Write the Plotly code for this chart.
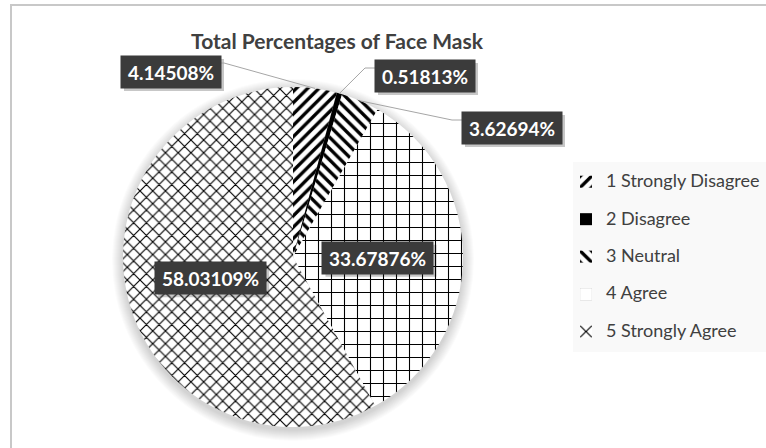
import math
import plotly.graph_objects as go

W, H = 766, 448

# Survey responses and their share of the total
categories = ["1 Strongly Disagree", "2 Disagree", "3 Neutral", "4 Agree", "5 Strongly Agree"]
percentages = [4.14508, 0.51813, 3.62694, 33.67876, 58.03109]

# Monochrome fills, one per response
slice_colors = ["white", "black", "white", "white", "white"]
pattern_shapes = ["/", "", "\\", "+", "x"]
pattern_sizes = [8, 8, 8, 13, 9]
pattern_solidity = [0.42, 0.4, 0.42, 0.16, 0.24]

# Pie placement in pixels
CX, CY, R = 293, 257, 170

FONT = "Lato"
TEXT_DARK = "#404040"
BOX_COLOR = "#3b3b3b"


def px(x):
    return x / W


def py(y):
    return 1 - y / H


legend_labels = [f'<span style="font-size:18px;baseline-shift:5px">{c}</span>' for c in categories]

fig = go.Figure(
    go.Pie(
        labels=legend_labels,
        values=percentages,
        sort=False,
        direction="clockwise",
        rotation=0,
        textinfo="none",
        hovertemplate="%{label}: %{value:.5f}%<extra></extra>",
        marker=dict(
            colors=slice_colors,
            line=dict(width=0),
            pattern=dict(
                shape=pattern_shapes,
                fgcolor="black",
                bgcolor="white",
                size=pattern_sizes,
                solidity=pattern_solidity,
            ),
        ),
        domain=dict(x=[px(CX - R), px(CX + R)], y=[py(CY + R), py(CY - R)]),
    )
)

shapes = []

# chart frame
shapes.append(dict(type="rect", xref="paper", yref="paper",
                   x0=px(11), y0=py(5), x1=px(790), y1=py(470),
                   line=dict(color="#c8c8c8", width=2), fillcolor="rgba(0,0,0,0)", layer="below"))

# soft glow under the pie
for k in range(1, 12):
    shapes.append(dict(type="circle", xref="paper", yref="paper",
                       x0=px(CX - R - k), x1=px(CX + R + k),
                       y0=py(CY + 3 + R + k), y1=py(CY + 3 - R - k),
                       fillcolor="rgba(0,0,0,0.014)", line=dict(width=0), layer="below"))

# legend panel
shapes.append(dict(type="rect", xref="paper", yref="paper",
                   x0=px(573), x1=px(790), y0=py(352), y1=py(162),
                   fillcolor="#f9f9f9", line=dict(width=0), layer="below"))

# slice mid-angles (clockwise from 12 o'clock)
total = sum(percentages)
mid_angles = []
acc = 0.0
for v in percentages:
    mid_angles.append(2 * math.pi * (acc + v / 2) / total)
    acc += v


def on_pie(theta, frac):
    return CX + frac * R * math.sin(theta), CY - frac * R * math.cos(theta)


# label box centres: small slices get callouts, large ones sit inside
callout_pos = {0: (171, 72), 1: (425, 76), 2: (512, 128)}
label_pos = {}
for i, th in enumerate(mid_angles):
    label_pos[i] = callout_pos.get(i, on_pie(th, 0.5))

BOX_H = 32
annotations = []
for i, v in enumerate(percentages):
    txt = f"{v:.5f}%"
    bw = 11 * len(txt) + 12
    cx, cy = label_pos[i]
    # drop shadow
    shapes.append(dict(type="rect", xref="paper", yref="paper",
                       x0=px(cx - bw / 2 + 3), x1=px(cx + bw / 2 + 3),
                       y0=py(cy + BOX_H / 2 + 3), y1=py(cy - BOX_H / 2 + 3),
                       fillcolor="rgba(0,0,0,0.22)", line=dict(width=0), layer="above"))
    annotations.append(dict(
        text=f"<b>{txt}</b>", x=px(cx), y=py(cy), xref="paper", yref="paper",
        xanchor="center", yanchor="middle", showarrow=False,
        width=bw, height=BOX_H, borderpad=0, bgcolor=BOX_COLOR,
        font=dict(family=FONT, size=19, color="white"),
    ))

    if i in callout_pos:
        tx, ty = on_pie(mid_angles[i], 1.0)
        if cx > tx:
            ax, ay = cx - bw / 2, cy - 8
            ex = ax - 10
        else:
            ax, ay = cx + bw / 2, cy - 9
            ex = ax + 3
        path = f"M{px(tx)},{py(ty)} L{px(ex)},{py(ay)} L{px(ax)},{py(ay)}"
        shapes.append(dict(type="path", xref="paper", yref="paper", path=path,
                           line=dict(color="#a6a6a6", width=1), layer="above"))

fig.update_layout(
    width=W,
    height=H,
    margin=dict(l=0, r=0, t=0, b=0),
    paper_bgcolor="white",
    plot_bgcolor="white",
    title=dict(
        text="<b>Total Percentages of Face Mask</b>",
        x=px(337), xanchor="center",
        y=py(42), yanchor="middle",
        font=dict(family=FONT, size=21, color=TEXT_DARK),
    ),
    showlegend=True,
    legend=dict(
        x=px(566), y=py(158), xanchor="left", yanchor="top",
        bgcolor="rgba(0,0,0,0)",
        font=dict(family=FONT, size=26.5, color=TEXT_DARK),
        itemwidth=30,
        traceorder="normal",
    ),
    shapes=shapes,
    annotations=annotations,
)

fig.write_html("out.html")
